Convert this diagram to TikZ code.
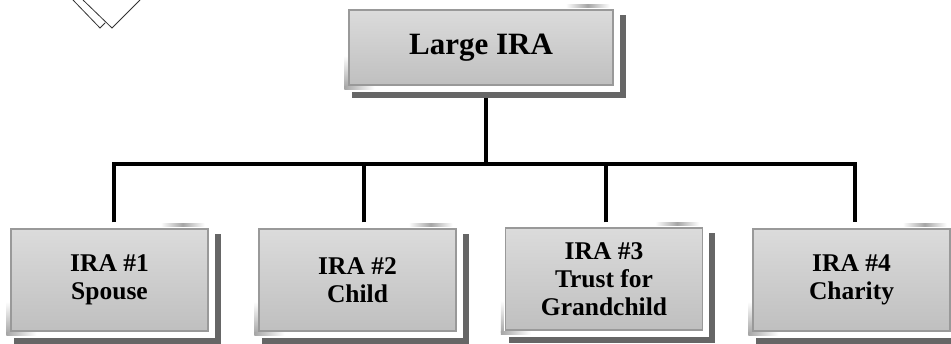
\documentclass[tikz,border=0pt]{standalone}
\usepackage{fontspec}
\setmainfont{Liberation Serif}
\usetikzlibrary{calc,backgrounds}
\tikzset{
  box/.style={draw=black!40, line width=1.3pt, top color=black!14, bottom color=black!25,
    font=\bfseries, align=center, inner sep=0pt},
  topbox/.style={box, minimum width=264pt, minimum height=75pt, font=\bfseries\fontsize{31}{33}\selectfont},
  kidbox/.style={box, minimum width=197pt, minimum height=102pt, font=\bfseries\fontsize{25.5}{28}\selectfont},
  conn/.style={line width=4.5pt, line join=miter},
  shadowfill/.style={fill=black!60},
  glowfill/.style={fill=white},
  sketch/.style={line width=0.8pt, black!80},
}
\newcommand{\boxdeco}[1]{%
  \fill[shadowfill] ($(#1.north west)+(4,6)$) rectangle ($(#1.south east)+(12,12)$);
  \fill[glowfill] ($(#1.north west)+(-4,-4)$) rectangle ($(#1.south east)+(6,6)$);
  \shade[left color=white,right color=white,middle color=black!35] ($(#1.north east)+(-48,-5)$) rectangle ($(#1.north east)+(-4,-2)$);
  \shade[top color=white,bottom color=black!35] ($(#1.south west)+(-4,-30)$) rectangle ($(#1.south west)+(-1,2)$);
  \shade[left color=black!35,right color=white] ($(#1.south west)+(-4,1)$) rectangle ($(#1.south west)+(26,4)$);
}
\begin{document}
\begin{tikzpicture}[x=1pt,y=-1pt]
\clip (0,0) rectangle (951,344);
% boxes
\node[topbox] (top) at (481,47.5) {Large IRA};
\node[kidbox] (k1) at (109.5,280) {IRA \#1\\Spouse};
\node[kidbox] (k2) at (357.5,280) {IRA \#2\\Child};
\node[kidbox] (k3) at (604,279) {IRA \#3\\Trust for\\Grandchild};
\node[kidbox] (k4) at (851.5,280) {IRA \#4\\Charity};
\coordinate (bar) at (0,164);
\coordinate (t1) at ($(top.south)+(5,0)$);
\coordinate (d1) at ($(k1.north)+(4.5,-6)$);
\coordinate (d2) at ($(k2.north)+(6.5,-6)$);
\coordinate (d3) at ($(k3.north)+(2,-5)$);
\coordinate (d4) at ($(k4.north)+(3.5,-6)$);
\begin{scope}[on background layer]
  \fill[white] (0,0) rectangle (951,344);
  % partial shape at top left
  \draw[sketch] (73,0) -- (100,28) -- (105,23);
  \draw[sketch] (83,0) -- (112,28) -- (140,0);
  \draw[conn] (t1) -- (t1 |- bar);
  \draw[conn] (d1) -- (d1 |- bar) -- (d4 |- bar) -- (d4);
  \draw[conn] (d2) -- (d2 |- bar);
  \draw[conn] (d3) -- (d3 |- bar);
  \boxdeco{top}
  \boxdeco{k1}
  \boxdeco{k2}
  \boxdeco{k3}
  \boxdeco{k4}
\end{scope}
\end{tikzpicture}
\end{document}
